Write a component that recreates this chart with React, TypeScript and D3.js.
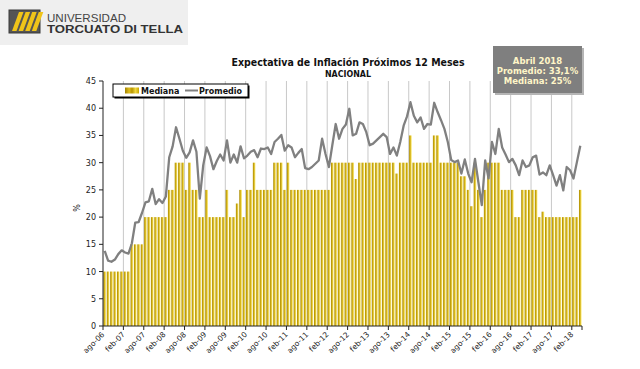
import React from 'react';
import * as d3 from 'd3';

const START_MONTH = new Date(2006, 7, 1);
const TICK_LABELS = [
  'ago-06', 'feb-07', 'ago-07', 'feb-08', 'ago-08', 'feb-09', 'ago-09', 'feb-10',
  'ago-10', 'feb-11', 'ago-11', 'feb-12', 'ago-12', 'feb-13', 'ago-13', 'feb-14',
  'ago-14', 'feb-15', 'ago-15', 'feb-16', 'ago-16', 'feb-17', 'ago-17', 'feb-18',
];
const Y_TICKS = [0, 5, 10, 15, 20, 25, 30, 35, 40, 45];

const MEDIANA = [
  10, 10, 10, 10, 10, 10, 10, 10, 15, 15,
  15, 15, 20, 20, 20, 20, 20, 20, 20, 25,
  25, 30, 30, 30, 25, 30, 25, 25, 20, 20,
  25, 20, 20, 20, 20, 20, 25, 20, 20, 22.5,
  25, 20, 25, 25, 30, 25, 25, 25, 25, 25,
  30, 30, 30, 25, 30, 25, 25, 25, 25, 25,
  25, 25, 25, 25, 25, 25, 25, 30, 30, 30,
  30, 30, 30, 30, 27, 30, 30, 30, 30, 30,
  30, 30, 30, 30, 30, 30, 28, 30, 30, 30,
  35, 30, 30, 30, 30, 30, 30, 35, 35, 30,
  30, 30, 30, 30, 30, 27.5, 27.5, 25, 22, 30,
  25, 20, 25, 30, 30, 30, 30, 25, 25, 25,
  25, 20, 20, 25, 25, 25, 25, 25, 20, 21,
  20, 20, 20, 20, 20, 20, 20, 20, 20, 20, 25,
];

const PROMEDIO = [
  13.8, 12.0, 11.8, 12.2, 13.2, 13.9, 13.5, 13.3, 15.2, 19.0,
  19.1, 20.8, 22.7, 22.9, 25.2, 22.4, 23.3, 22.6, 23.8, 31.0,
  33.0, 36.5, 34.4, 32.2, 30.9, 31.9, 34.1, 32.0, 23.4, 29.5,
  32.8, 31.2, 28.8, 30.3, 31.5, 30.4, 34.1, 30.0, 31.5, 30.0,
  33.0, 30.8, 31.3, 32.0, 32.3, 31.0, 32.6, 32.5, 32.8, 31.6,
  33.8, 34.4, 35.1, 32.2, 33.2, 32.8, 31.0, 31.8, 32.5, 29.0,
  28.8, 29.2, 29.8, 30.4, 34.4, 31.6, 29.2, 33.2, 37.1, 34.4,
  36.2, 37.0, 39.9, 35.0, 35.3, 37.4, 37.1, 35.6, 33.2, 33.5,
  34.1, 34.7, 35.3, 34.7, 31.6, 32.8, 31.3, 33.8, 36.8, 38.5,
  41.1, 38.6, 37.4, 38.3, 36.2, 37.1, 37.0, 41.0, 39.3, 37.8,
  36.2, 33.8, 30.5, 30.1, 30.4, 28.0, 30.6, 28.0, 26.4, 30.7,
  26.4, 22.2, 30.4, 27.1, 33.8, 31.6, 36.2, 32.8, 31.5, 30.1,
  30.7, 29.5, 27.7, 30.4, 29.2, 29.5, 31.0, 31.3, 27.8, 28.2,
  27.7, 29.5, 27.7, 25.8, 27.7, 24.9, 29.2, 28.6, 27.1, 30.1, 33.1,
];

const INFO_LINES = ['Abril 2018', 'Promedio: 33,1%', 'Mediana: 25%'];

export default function App() {
  const W = 640;
  const H = 369;
  const months = d3.timeMonth.range(START_MONTH, d3.timeMonth.offset(START_MONTH, MEDIANA.length));
  const keys = months.map((d) => d.getTime());
  const x = d3.scaleBand<number>().domain(keys).range([103, 582]).padding(0);
  const y = d3.scaleLinear().domain([0, 45]).range([326, 81]);
  const bw = x.bandwidth();
  const gap = 0.75;
  const line = d3
    .line<number>()
    .x((_, i) => (x(keys[i]) as number) + bw / 2)
    .y((d) => y(d));

  const tickKeys = TICK_LABELS.map((_, i) => keys[i * 6]);
  const font = "Tahoma, 'DejaVu Sans', Verdana, sans-serif";

  return (
    <svg
      width={W}
      height={H}
      style={{ position: 'absolute', left: 0, top: 0, background: '#fff' }}
      fontFamily={font}
    >
      <defs>
        <linearGradient id="gold" x1="0" x2="1" y1="0" y2="0">
          <stop offset="0" stopColor="#a68700" />
          <stop offset="0.45" stopColor="#d6b416" />
          <stop offset="1" stopColor="#fff494" />
        </linearGradient>
        <linearGradient id="goldLegend" x1="0" x2="1" y1="0" y2="0">
          <stop offset="0" stopColor="#a08200" />
          <stop offset="0.3" stopColor="#e0be20" />
          <stop offset="0.5" stopColor="#b89600" />
          <stop offset="0.75" stopColor="#f0d840" />
          <stop offset="1" stopColor="#c8a400" />
        </linearGradient>
      </defs>

      {/* header logo */}
      <rect x={0} y={0} width={188} height={45} fill="#efefef" />
      <rect x={9} y={10} width={31} height={23} fill="#555" stroke="#3a3a3a" strokeWidth={1} />
      {[0, 1, 2, 3].map((i) => (
        <polygon
          key={i}
          points={`${12 + i * 6.6},31 ${16.5 + i * 6.6},31 ${23.5 + i * 6.6},12 ${19 + i * 6.6},12`}
          fill="#f0c419"
        />
      ))}
      <text x={47} y={22} fontFamily="'Liberation Sans', Arial, sans-serif" fontSize={11.5} fill="#444" textLength={79} lengthAdjust="spacingAndGlyphs">
        UNIVERSIDAD
      </text>
      <text x={47} y={33} fontFamily="'Liberation Sans', Arial, sans-serif" fontWeight="bold" fontSize={11.5} fill="#333" textLength={136} lengthAdjust="spacingAndGlyphs">
        TORCUATO DI TELLA
      </text>

      {/* titles */}
      <text x={348} y={65.5} textAnchor="middle" fontWeight="bold" fontSize={11} fill="#111" textLength={233} lengthAdjust="spacingAndGlyphs">
        Expectativa de Inflación Próximos 12 Meses
      </text>
      <text x={348} y={77} textAnchor="middle" fontWeight="bold" fontSize={8.5} fill="#111" textLength={46} lengthAdjust="spacingAndGlyphs">
        NACIONAL
      </text>

      {/* vertical gridlines */}
      {tickKeys.slice(1).map((k) => (
        <line key={k} x1={x(k)} x2={x(k)} y1={y(45)} y2={y(0)} stroke="#c8c8c8" strokeWidth={1} />
      ))}

      {/* bars */}
      {MEDIANA.map((v, i) => (
        <rect
          key={i}
          x={(x(keys[i]) as number) + gap / 2}
          width={bw - gap}
          y={y(v)}
          height={y(0) - y(v)}
          fill="url(#gold)"
        />
      ))}

      {/* promedio line */}
      <path d={line(PROMEDIO) || ''} fill="none" stroke="#808080" strokeWidth={2.3} strokeLinejoin="round" />

      {/* y axis */}
      <line x1={103} x2={103} y1={y(45)} y2={y(0)} stroke="#222" strokeWidth={1} />
      {Y_TICKS.map((t) => (
        <g key={t}>
          <line x1={99} x2={103} y1={y(t)} y2={y(t)} stroke="#222" />
          <text x={96} y={y(t) + 3} textAnchor="end" fontSize={8} fill="#222">
            {t}
          </text>
        </g>
      ))}
      <text transform={`translate(80,208) rotate(-90)`} textAnchor="middle" fontSize={8} fill="#222">
        %
      </text>

      {/* x axis */}
      <line x1={103} x2={582} y1={y(0)} y2={y(0)} stroke="#222" strokeWidth={1} />
      {tickKeys.map((k, i) => (
        <g key={k}>
          <line x1={x(k)} x2={x(k)} y1={y(0)} y2={y(0) + 4} stroke="#222" />
          <text
            transform={`translate(${(x(k) as number) + 2},${y(0) + 9}) rotate(-45)`}
            textAnchor="end"
            fontSize={7.5}
            fill="#222"
          >
            {TICK_LABELS[i]}
          </text>
        </g>
      ))}
      <line x1={582} x2={582} y1={y(0)} y2={y(0) + 4} stroke="#222" />

      {/* legend */}
      <rect x={114.5} y={85.5} width={135} height={13} fill="#000" />
      <rect x={113} y={84} width={135} height={13} fill="#fff" stroke="#000" strokeWidth={1} />
      <rect x={125} y={87.5} width={14} height={6} fill="url(#goldLegend)" />
      <text x={141} y={93.5} fontSize={8} fontWeight="bold" fill="#111">Mediana</text>
      <line x1={185} x2={198} y1={90.5} y2={90.5} stroke="#808080" strokeWidth={2} />
      <text x={199} y={93.5} fontSize={8} fontWeight="bold" fill="#111">Promedio</text>

      {/* info box */}
      <rect x={495} y={48} width={89} height={47} fill="#b5b5b5" />
      <rect x={493} y={46} width={89} height={47} fill="#7f7f7f" />
      {INFO_LINES.map((t, i) => (
        <text key={t} x={537.5} y={63.5 + i * 10} textAnchor="middle" fontSize={8.5} fontWeight="bold" fill="#fff6c8">
          {t}
        </text>
      ))}
    </svg>
  );
}
